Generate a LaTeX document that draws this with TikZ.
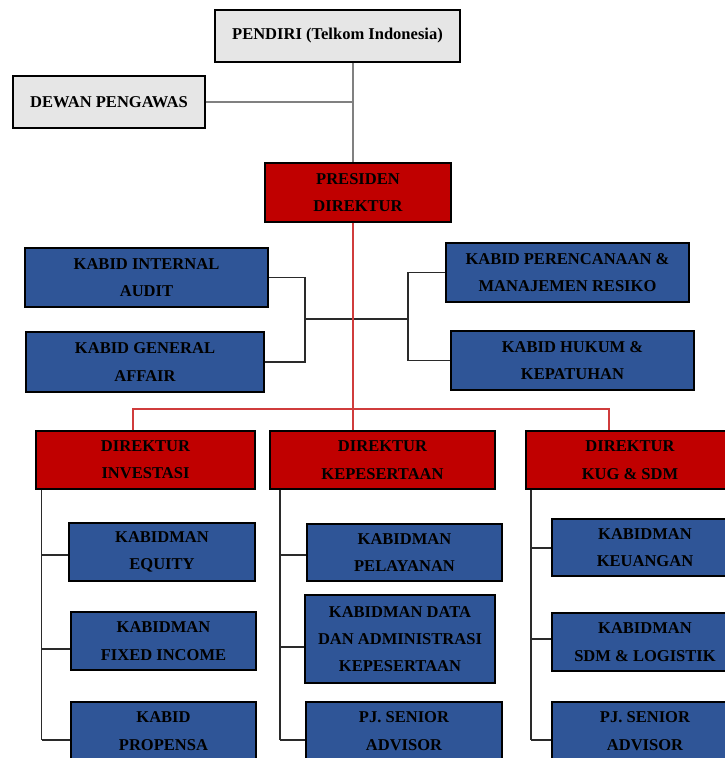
\documentclass[tikz,border=0pt]{standalone}
\usepackage{fontspec}
\setmainfont{Liberation Serif}
\definecolor{boxgray}{HTML}{E6E6E6}
\definecolor{boxred}{HTML}{C00000}
\definecolor{boxblue}{HTML}{2F5597}
\definecolor{linered}{HTML}{D03C3C}
\definecolor{linegray}{HTML}{808080}
\definecolor{lineblk}{HTML}{2A2A2A}
\tikzset{
  bx/.style 2 args={draw=black, line width=1.1pt, rectangle, inner sep=0pt,
    minimum width=#1*0.75pt, minimum height=#2*0.75pt, align=center,
    font=\bfseries\fontsize{12.4}{20.5}\selectfont},
  graybox/.style={fill=boxgray},
  redbox/.style={fill=boxred},
  bluebox/.style={fill=boxblue},
  glink/.style={draw=linegray, line width=1.1pt},
  rlink/.style={draw=linered, line width=1.1pt},
  blink/.style={draw=lineblk, line width=1pt},
}
\begin{document}
\begin{tikzpicture}[x=0.75pt, y=-0.75pt]
\clip (0,0) rectangle (725,758);
\fill[white] (0,0) rectangle (725,758);
% top
\node[bx={245}{52}, graybox] (pendiri) at (337.5,36) {PENDIRI (Telkom Indonesia)};
\node[bx={192}{52}, graybox] (dewan) at (109,102) {DEWAN PENGAWAS};
\node[bx={186}{59}, redbox] (presiden) at (358,192.5) {PRESIDEN\\DIREKTUR};
% staff
\node[bx={243}{59}, bluebox] (ia) at (146.5,277.5) {KABID INTERNAL\\AUDIT};
\node[bx={238}{60}, bluebox] (ga) at (145,362) {KABID GENERAL\\AFFAIR};
\node[bx={243}{59}, bluebox] (pr) at (567.5,272.5) {KABID PERENCANAAN \&\\MANAJEMEN RESIKO};
\node[bx={243}{59}, bluebox] (hk) at (572.5,360.5) {KABID HUKUM \&\\KEPATUHAN};
% directors
\node[bx={219}{58}, redbox] (inv) at (145.5,460) {DIREKTUR\\INVESTASI};
\node[bx={225}{58}, redbox] (kep) at (382.5,460) {DIREKTUR\\KEPESERTAAN};
\node[bx={208}{58}, redbox] (kug) at (630,460) {DIREKTUR\\KUG \& SDM};
% investasi
\node[bx={186}{58}, bluebox] (eq) at (162,552) {KABIDMAN\\EQUITY};
\node[bx={185}{58}, bluebox] (fi) at (163.5,641) {KABIDMAN\\FIXED INCOME};
\node[bx={185}{58}, bluebox] (pp) at (163.5,731) {KABID\\PROPENSA};
% kepesertaan
\node[bx={195}{57}, bluebox] (pl) at (404.5,552.5) {KABIDMAN\\PELAYANAN};
\node[bx={190}{88}, bluebox] (da) at (400,639) {KABIDMAN DATA\\DAN ADMINISTRASI\\KEPESERTAAN};
\node[bx={196}{58}, bluebox] (ps1) at (404,731) {PJ. SENIOR\\ADVISOR};
% kug
\node[bx={186}{57}, bluebox] (ku) at (645,547.5) {KABIDMAN\\KEUANGAN};
\node[bx={186}{58}, bluebox] (sd) at (645,642) {KABIDMAN\\SDM \& LOGISTIK};
\node[bx={186}{58}, bluebox] (ps2) at (645,731) {PJ. SENIOR\\ADVISOR};
% coordinates
\coordinate (spine) at (353,0);
\coordinate (bl) at (305,319);
\coordinate (br) at (408,319);
\coordinate (rl) at (133,409);
\coordinate (rr) at (609,409);
\coordinate (ti) at (41.7,0);
\coordinate (tk) at (280,0);
\coordinate (tg) at (531,0);
\coordinate (teq) at (41.7,555);
\coordinate (tfi) at (41.7,649);
\coordinate (tpp) at (41.7,740);
\coordinate (tpl) at (280,555);
\coordinate (tda) at (280,647);
\coordinate (tps1) at (280,740);
\coordinate (tku) at (531,548);
\coordinate (tsd) at (531,639);
\coordinate (tps2) at (531,740);
% top links
\draw[glink] (pendiri.south -| spine) -- (presiden.north -| spine);
\draw[glink] (dewan.east) -- (dewan.east -| spine);
% staff links
\draw[blink] (ia.east) -| (bl);
\draw[blink] (ga.east) -| (bl);
\draw[blink] (bl) -- (br);
\draw[blink] (pr.west) -| (br);
\draw[blink] (hk.west) -| (br);
% red links
\draw[rlink] (presiden.south -| spine) -- (kep.north -| spine);
\draw[rlink] (inv.north -| rl) -- (rl) -- (rr) -- (kug.north -| rr);
% director trunks
\draw[blink] (inv.south -| ti) -- (tpp);
\draw[blink] (teq) -- (eq.west |- teq);
\draw[blink] (tfi) -- (fi.west |- tfi);
\draw[blink] (tpp) -- (pp.west |- tpp);
\draw[blink] (kep.south -| tk) -- (tps1);
\draw[blink] (tpl) -- (pl.west |- tpl);
\draw[blink] (tda) -- (da.west |- tda);
\draw[blink] (tps1) -- (ps1.west |- tps1);
\draw[blink] (kug.south -| tg) -- (tps2);
\draw[blink] (tku) -- (ku.west |- tku);
\draw[blink] (tsd) -- (sd.west |- tsd);
\draw[blink] (tps2) -- (ps2.west |- tps2);
\end{tikzpicture}
\end{document}
